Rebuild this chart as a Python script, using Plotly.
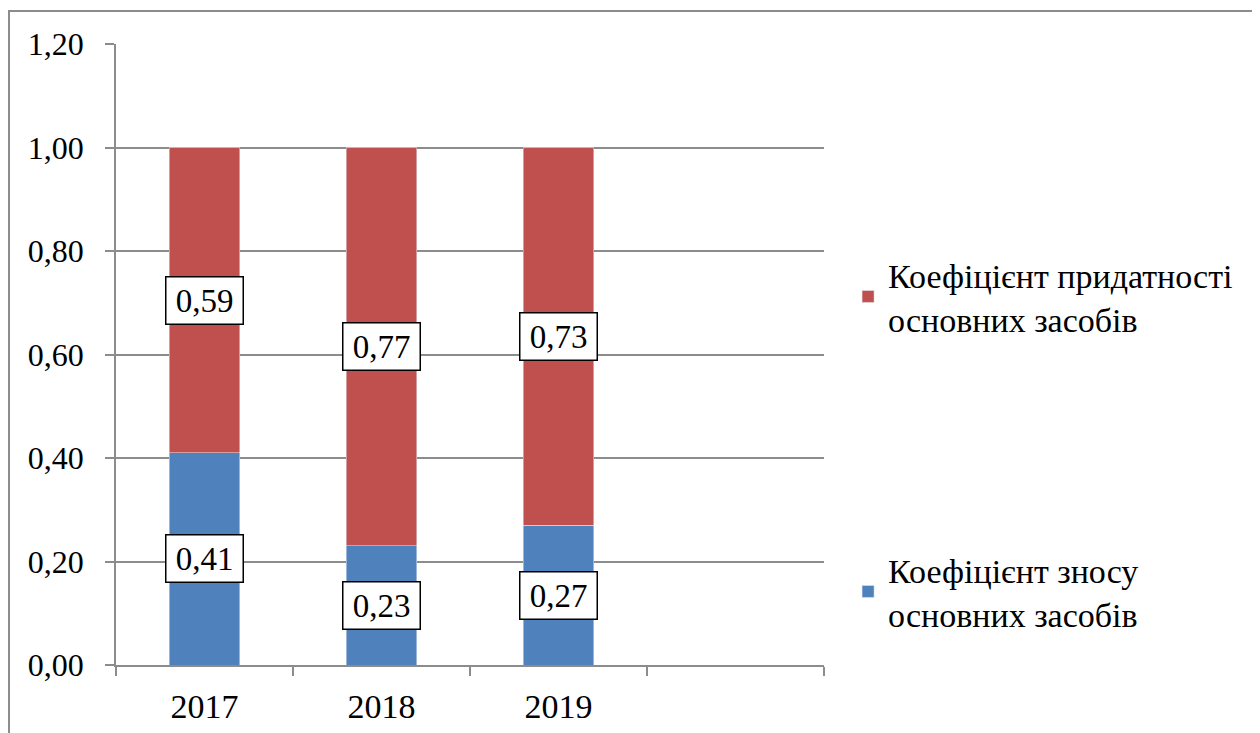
import plotly.graph_objects as go

years = ["2017", "2018", "2019"]
wear = [0.41, 0.23, 0.27]          # Коефіцієнт зносу
fitness = [0.59, 0.77, 0.73]       # Коефіцієнт придатності
wear_labels = ["0,41", "0,23", "0,27"]
fit_labels = ["0,59", "0,77", "0,73"]
y_ticks = [0, 0.2, 0.4, 0.6, 0.8, 1.0, 1.2]
y_tick_text = ["0,00", "0,20", "0,40", "0,60", "0,80", "1,00", "1,20"]
name_wear = "Коефіцієнт зносу<br>основних засобів"
name_fit = "Коефіцієнт придатності<br>основних засобів"

BLUE = "#4F81BD"
RED = "#C0504D"
GRID = "#8C8C8C"
FONT = "Liberation Serif, Times New Roman, serif"

xs = list(range(len(years)))

fig = go.Figure()
fig.add_trace(go.Bar(x=xs, y=wear, name=name_wear, marker_color=BLUE,
                     width=0.4, legend="legend2"))
fig.add_trace(go.Bar(x=xs, y=fitness, name=name_fit, marker_color=RED,
                     width=0.4, legend="legend"))

lab_font = dict(family=FONT, size=33, color="black")
for i in xs:
    fig.add_annotation(x=i, y=wear[i] / 2, text=wear_labels[i], showarrow=False,
                       bgcolor="white", bordercolor="black", borderwidth=1.5,
                       borderpad=2, width=72, height=42, font=lab_font)
    fig.add_annotation(x=i, y=wear[i] + fitness[i] / 2, text=fit_labels[i],
                       showarrow=False, bgcolor="white", bordercolor="black",
                       borderwidth=1.5, borderpad=2, width=72, height=42,
                       font=lab_font)

# outer chart border
fig.add_shape(type="rect", xref="paper", yref="paper",
              x0=-0.1511, y0=-0.6, x1=2.0, y1=1.0531,
              line=dict(color=GRID, width=2), layer="below")

leg_font = dict(family=FONT, size=34, color="black")
fig.update_layout(
    barmode="stack",
    width=1252, height=725,
    margin=dict(l=108, r=436, t=36, b=68, autoexpand=False),
    paper_bgcolor="white", plot_bgcolor="white",
    font=dict(family=FONT, size=32, color="black"),
    showlegend=True,
    legend=dict(x=1.034, xanchor="left", y=0.593, yanchor="middle",
                font=leg_font, bgcolor="rgba(0,0,0,0)", itemwidth=30),
    legend2=dict(x=1.034, xanchor="left", y=0.118, yanchor="middle",
                 font=leg_font, bgcolor="rgba(0,0,0,0)", itemwidth=30),
    xaxis=dict(range=[-0.5, 3.5], tickmode="array", tickvals=xs, ticktext=years,
               ticks="", showgrid=False, showline=True, linecolor=GRID,
               linewidth=1.5, zeroline=False, ticklabelstandoff=10,
               automargin=False,
               tickfont=dict(family=FONT, size=34, color="black"),
               minor=dict(tickmode="array", tickvals=[-0.5, 0.5, 1.5, 2.5, 3.5],
                          ticks="outside", ticklen=9, tickcolor=GRID,
                          tickwidth=1.5, showgrid=False)),
    yaxis=dict(range=[0, 1.2], tickmode="array", tickvals=y_ticks,
               ticktext=y_tick_text, ticks="outside", ticklen=9,
               tickcolor=GRID, tickwidth=1.5, showgrid=True, gridcolor=GRID,
               gridwidth=1.5, showline=True, linecolor=GRID, linewidth=1.5,
               zeroline=False, ticklabelstandoff=15, automargin=False,
               tickfont=dict(family=FONT, size=32, color="black")),
)

fig.write_html("out.html")
